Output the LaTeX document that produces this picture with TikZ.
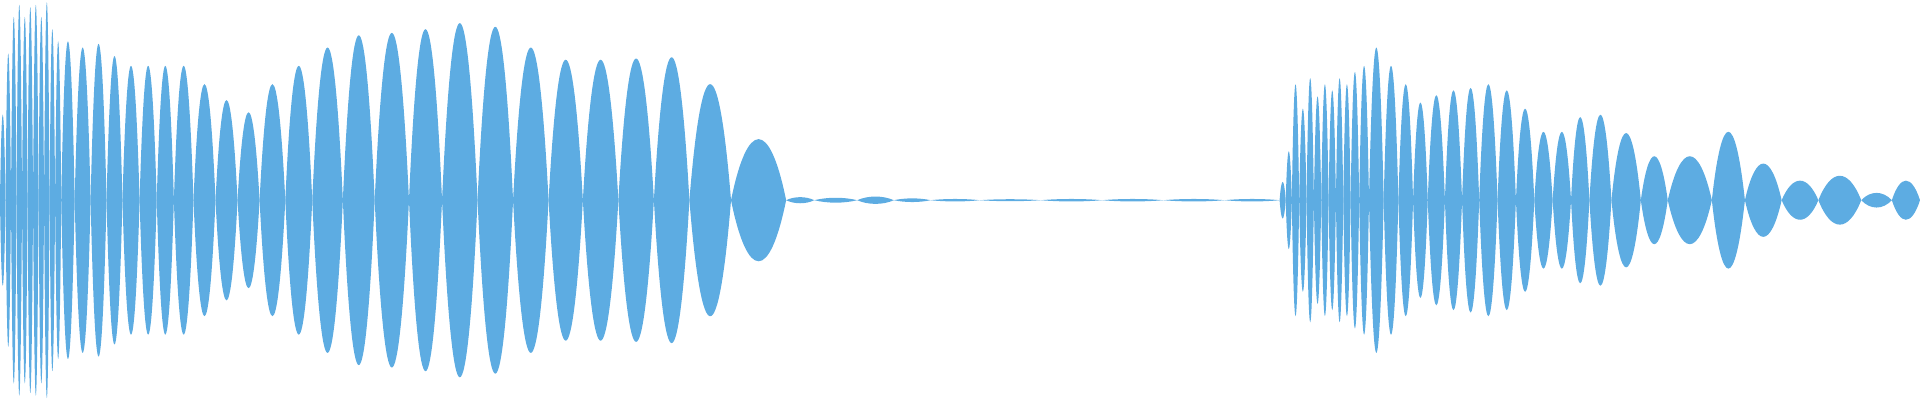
\documentclass[tikz,border=0pt]{standalone}
\definecolor{wave}{RGB}{93,172,226}
\newcommand{\lobe}[3]{%
 \fill[wave] (#1,163.5) .. controls ({#1+0.3*(#2-#1)},{163.5+1.33*#3}) and ({#2-0.3*(#2-#1)},{163.5+1.33*#3}) .. (#2,163.5)
  .. controls ({#2-0.3*(#2-#1)},{163.5-1.33*#3}) and ({#1+0.3*(#2-#1)},{163.5-1.33*#3}) .. cycle;}
\begin{document}
\begin{tikzpicture}[x=1pt,y=-1pt]
\useasboundingbox (0,0) rectangle (1568,327);
% left dense
\foreach \a/\b/\h in {0/4.5/70,4.5/9/120,9/13.5/150,13.5/18/160,18/22.5/150,22.5/27/158,27/31.5/160,31.5/36/150,36/40.5/162,40.5/45/140,45/50/130,
50/61/130,61/74/125,74/87/128,87/100/118,100/114/110,114/128/110,128/142/110,142/158/110,158/176/95,176/194/82,194/212/72,212/233/95,233/255/110,255/280/125,280/306/135,306/334/137,334/361/140,361/390/145,390/419/142,419/448/125,448/476/115,476/505/115,505/534/116,534/563/117,563/597/95,597/642/50}
 {\lobe{\a}{\b}{\h}}
% flat ripples
\foreach \a/\b/\h in {642/665/2.5,665/700/2,700/730/3,730/760/1.5,760/800/1,800/850/0.8,850/900/1,900/950/1,950/1000/1,1000/1045/1}
 {\lobe{\a}{\b}{\h}}
% right
\foreach \a/\b/\h in {1045/1050/15,1050/1055/40,1055/1061/95,1061/1067/75,1067/1073/100,1073/1079/85,1079/1085/95,1085/1091/90,1091/1097/100,1097/1103/95,1103/1110/105,1110/1118/110,
1118/1130/125,1130/1142/110,1142/1154/95,1154/1166/80,1166/1180/86,1180/1194/90,1194/1208/92,1208/1223/95,1223/1238/90,1238/1253/75,1253/1268/56,1268/1283/56,1283/1298/68,1298/1316/70,1316/1340/55,1340/1362/36,1362/1398/36,1398/1425/56,1425/1455/30,1455/1485/16,1485/1520/20,1520/1545/6,1545/1568/16}
 {\lobe{\a}{\b}{\h}}
\end{tikzpicture}
\end{document}
